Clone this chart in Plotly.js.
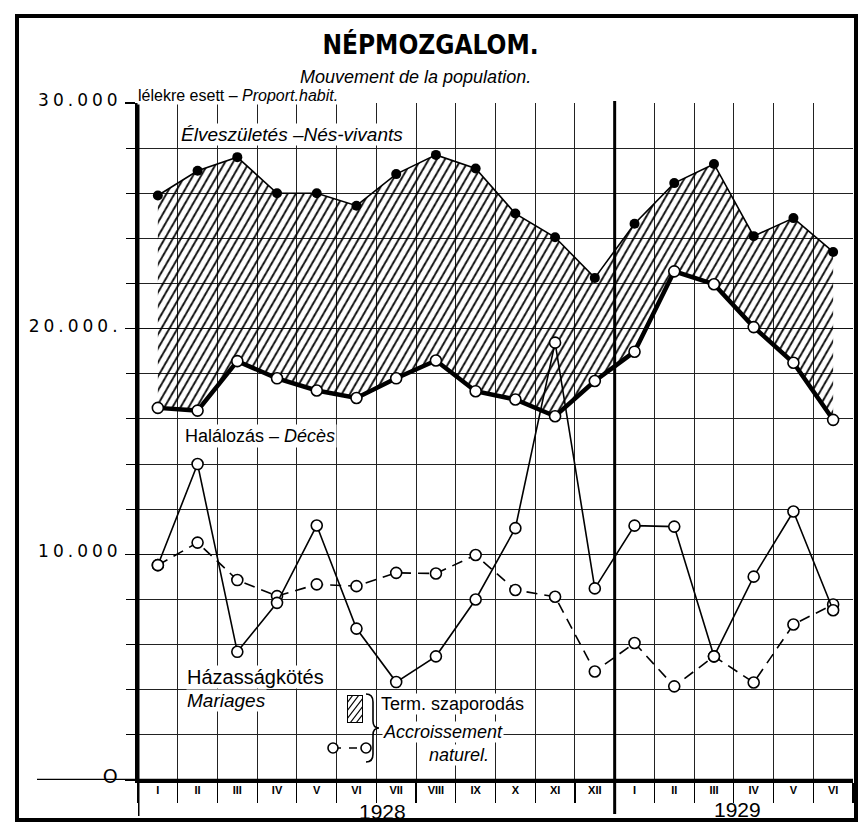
<!DOCTYPE html>
<html>
<head>
<meta charset="utf-8">
<script src="https://cdn.plot.ly/plotly-3.0.1.min.js"></script>
<style>
  html, body { margin: 0; padding: 0; background: #fff; }
  #chart { width: 861px; height: 822px; }
  .yaxislayer-above .ytick text { letter-spacing: 4px; }
</style>
</head>
<body>
<div id="chart"></div>
<script>
// ---- data ----
const months = ['I','II','III','IV','V','VI','VII','VIII','IX','X','XI','XII','I','II','III','IV','V','VI'];
const years = ['1928', '1929'];
const yTickValues = [0, 10000, 20000, 30000];
const yTickLabels = ['<span style="font-size:19px">O</span>', '10.000', '20.000.', '30.000'];
const births    = [25900, 27000, 27600, 26000, 26000, 25450, 26850, 27700, 27100, 25100, 24050, 22250, 24650, 26450, 27300, 24100, 24900, 23400];
const deaths    = [16490, 16370, 18560, 17800, 17260, 16930, 17800, 18590, 17230, 16860, 16120, 17680, 18980, 22540, 21970, 20070, 18490, 15960];
const marriages = [9520, 14000, 5680, 7850, 11280, 6710, 4340, 5480, 8000, 11160, 19380, 8490, 11270, 11230, 5480, 9010, 11900, 7520];
const increase  = [9520, 10520, 8860, 8150, 8670, 8590, 9180, 9150, 9970, 8420, 8120, 4810, 6070, 4150, 5480, 4320, 6890, 7780];

// ---- helpers ----
const x = months.map((m, i) => i + 0.5);
const W = 861, H = 822;
const L = 138, R = 853, T = 103, B = 780;
const px = v => (v - L) / (R - L);
const py = v => (B - v) / (B - T);
const SANS = 'Liberation Sans, Arial, sans-serif';
const COND = 'DejaVu Sans Condensed, Liberation Sans, sans-serif';
const openMarker = {symbol: 'circle', size: 11, color: '#fff', line: {color: '#000', width: 1.6}};

const traces = [
  { // base for the hatched band
    x: x, y: deaths, mode: 'lines', line: {width: 0, color: 'rgba(0,0,0,0)'},
    hoverinfo: 'skip', showlegend: false
  },
  { // hatched band: natural increase
    x: x, y: births, mode: 'none', fill: 'tonexty',
    fillcolor: 'rgba(255,255,255,0)',
    fillpattern: {shape: '/', size: 7, solidity: 0.26, fgcolor: '#000', bgcolor: 'rgba(255,255,255,0)'},
    hoverinfo: 'skip', showlegend: false
  },
  { // deaths
    x: x, y: deaths, mode: 'lines+markers', name: 'Halálozás – Décès',
    line: {color: '#000', width: 4.5}, marker: openMarker, showlegend: false
  },
  { // births
    x: x, y: births, mode: 'lines+markers', name: 'Élveszületés – Nés-vivants',
    line: {color: '#000', width: 1.6},
    marker: {symbol: 'circle', size: 10, color: '#000'}, showlegend: false
  },
  { // natural increase
    x: x, y: increase, mode: 'lines+markers', name: 'Term. szaporodás',
    line: {color: '#000', width: 1.6, dash: '11px,7px'}, marker: openMarker, showlegend: false
  },
  { // marriages
    x: x, y: marriages, mode: 'lines+markers', name: 'Házasságkötés',
    line: {color: '#000', width: 1.6}, marker: openMarker, showlegend: false
  }
];

function ann(text, xp, yp, opts) {
  return Object.assign({
    text: text, xref: 'paper', yref: 'paper', x: px(xp), y: py(yp),
    xanchor: 'left', yanchor: 'middle', showarrow: false,
    font: {family: SANS, size: 18, color: '#000'}
  }, opts || {});
}

const annotations = [
  ann('<i>Mouvement de la population.</i>', 415, 77, {xanchor: 'center', font: {family: SANS, size: 18, color: '#000'}}),
  ann('lélekre esett – <i>Proport.habit.</i>', 137, 105, {yanchor: 'bottom', font: {family: SANS, size: 16, color: '#000'}, bgcolor: '#fff', borderpad: 0}),
  ann('<i>Élveszületés –Nés-vivants</i>', 180, 135, {font: {family: SANS, size: 19, color: '#000'}, bgcolor: '#fff', borderpad: 0}),
  ann('Halálozás – <i>Décès</i>', 183, 436, {font: {family: SANS, size: 18, color: '#000'}, bgcolor: '#fff', borderpad: 1}),
  ann('Házasságkötés', 186, 677, {font: {family: SANS, size: 20, color: '#000'}, bgcolor: '#fff', borderpad: 0}),
  ann('<i>Mariages</i>', 186, 700, {font: {family: SANS, size: 19, color: '#000'}, bgcolor: '#fff', borderpad: 0}),
  ann('Term. szaporodás', 380, 704, {font: {family: SANS, size: 18, color: '#000'}, bgcolor: '#fff', borderpad: 0}),
  ann('<i>Accroissement</i>', 382, 732, {font: {family: SANS, size: 18, color: '#000'}, bgcolor: '#fff', borderpad: 0}),
  ann('<i>naturel.</i>', 428, 755, {font: {family: SANS, size: 18, color: '#000'}, bgcolor: '#fff', borderpad: 0}),
  // year labels under the month ticks
  Object.assign(ann(years[0], 0, 811, {xanchor: 'center', font: {family: SANS, size: 21, color: '#000'}}), {xref: 'x', x: 6.15}),
  Object.assign(ann(years[1], 0, 809, {xanchor: 'center', font: {family: SANS, size: 21, color: '#000'}}), {xref: 'x', x: 15.1})
];

// legend brace path (pixel points converted to paper units)
const P = (a, b) => px(a) + ',' + py(b);
const bracePath = 'M' + P(366, 694) + ' Q' + P(373, 694) + ' ' + P(373, 702) + ' L' + P(373, 721) +
  ' Q' + P(373, 728) + ' ' + P(379, 728) + ' Q' + P(373, 728) + ' ' + P(373, 735) + ' L' + P(373, 754) +
  ' Q' + P(373, 762) + ' ' + P(366, 762);

const shapes = [
  // outer frame
  {type: 'rect', xref: 'paper', yref: 'paper', x0: px(17), x1: px(856), y0: py(820), y1: py(16),
   line: {color: '#000', width: 4}, fillcolor: 'rgba(0,0,0,0)', layer: 'above'},
  // x axis line extended to the left
  {type: 'line', xref: 'paper', yref: 'y', x0: px(37), x1: 1, y0: 0, y1: 0, line: {color: '#000', width: 2.5}, layer: 'above'},
  // y axis extended below the axis
  {type: 'line', xref: 'x', yref: 'paper', x0: 0, x1: 0, y0: py(816), y1: 1.003, line: {color: '#000', width: 3}, layer: 'above'},
  // year separator
  {type: 'line', xref: 'x', yref: 'paper', x0: 12, x1: 12, y0: py(814), y1: 1.003, line: {color: '#000', width: 3}, layer: 'above'},
  // legend brace
  {type: 'path', xref: 'paper', yref: 'paper', path: bracePath, line: {color: '#000', width: 1.6}, layer: 'above'},
  // legend: dashed o- -o sample
  {type: 'line', xref: 'paper', yref: 'paper', x0: px(333), x1: px(366), y0: py(748), y1: py(748),
   line: {color: '#000', width: 1.6, dash: '8px,8px'}, layer: 'above'},
  {type: 'circle', xref: 'paper', yref: 'paper', xsizemode: 'pixel', ysizemode: 'pixel',
   xanchor: px(333), yanchor: py(748), x0: -5, x1: 5, y0: -5, y1: 5,
   line: {color: '#000', width: 1.6}, fillcolor: '#fff', layer: 'above'},
  {type: 'circle', xref: 'paper', yref: 'paper', xsizemode: 'pixel', ysizemode: 'pixel',
   xanchor: px(366), yanchor: py(748), x0: -5, x1: 5, y0: -5, y1: 5,
   line: {color: '#000', width: 1.6}, fillcolor: '#fff', layer: 'above'}
];

// hatched legend swatch
const hatchSvg = '<svg xmlns="http://www.w3.org/2000/svg" width="16" height="28" viewBox="0 0 16 28">' +
  '<rect x="0.5" y="0.5" width="15" height="27" fill="white" stroke="black" stroke-width="1"/>' +
  '<g stroke="black" stroke-width="1.2">' +
  '<line x1="0" y1="8" x2="6" y2="0"/><line x1="0" y1="16" x2="12" y2="0"/><line x1="0" y1="24" x2="16" y2="3"/>' +
  '<line x1="3" y1="28" x2="16" y2="11"/><line x1="9" y1="28" x2="16" y2="19"/>' +
  '</g></svg>';

const layout = {
  width: W, height: H,
  margin: {l: L, r: W - R, t: T, b: H - B, pad: 0},
  paper_bgcolor: '#fff', plot_bgcolor: '#fff',
  showlegend: false,
  title: {
    text: '<b>NÉPMOZGALOM.</b>', x: 0.5, xref: 'container', xanchor: 'center',
    y: 1 - 45 / H, yref: 'container', yanchor: 'middle',
    font: {family: COND, size: 26, color: '#000'}
  },
  xaxis: {
    range: [0, months.length], fixedrange: true,
    tickmode: 'array', tickvals: x, ticktext: months,
    ticks: '', showgrid: false, zeroline: false,
    showline: true, linecolor: '#000', linewidth: 2.5,
    tickfont: {family: SANS, size: 11, color: '#000', weight: 'bold'},
    ticklabelstandoff: -2,
    minor: {tickmode: 'linear', tick0: 0, dtick: 1, ticks: 'outside', ticklen: 20, tickwidth: 1.2, tickcolor: '#000',
            showgrid: true, gridcolor: '#222', gridwidth: 1}
  },
  yaxis: {
    range: [0, 30000], fixedrange: true,
    tickmode: 'array', tickvals: yTickValues, ticktext: yTickLabels,
    ticks: 'outside', ticklen: 10, tickwidth: 1.2, tickcolor: '#000',
    showgrid: true, gridcolor: '#111', gridwidth: 1.3, zeroline: false,
    showline: true, linecolor: '#000', linewidth: 3,
    tickfont: {family: 'DejaVu Sans, sans-serif', size: 17, color: '#000'},
    ticklabelshift: -3,
    minor: {tickmode: 'linear', tick0: 0, dtick: 2000, ticks: 'outside', ticklen: 9, tickwidth: 1, tickcolor: '#000',
            showgrid: true, gridcolor: '#222', gridwidth: 1}
  },
  annotations: annotations,
  shapes: shapes,
  images: [{
    source: 'data:image/svg+xml;charset=utf-8,' + encodeURIComponent(hatchSvg),
    xref: 'paper', yref: 'paper', x: px(347), y: py(695), sizex: 16 / (R - L), sizey: 28 / (B - T),
    xanchor: 'left', yanchor: 'top', sizing: 'stretch', layer: 'above'
  }]
};

Plotly.newPlot('chart', traces, layout, {staticPlot: true, displayModeBar: false}).then(function (gd) {
  // the printed hatching is steeper than 45 degrees
  gd.querySelectorAll('pattern').forEach(function (p) { p.setAttribute('patternTransform', 'rotate(-15)'); });
});
</script>
</body>
</html>
